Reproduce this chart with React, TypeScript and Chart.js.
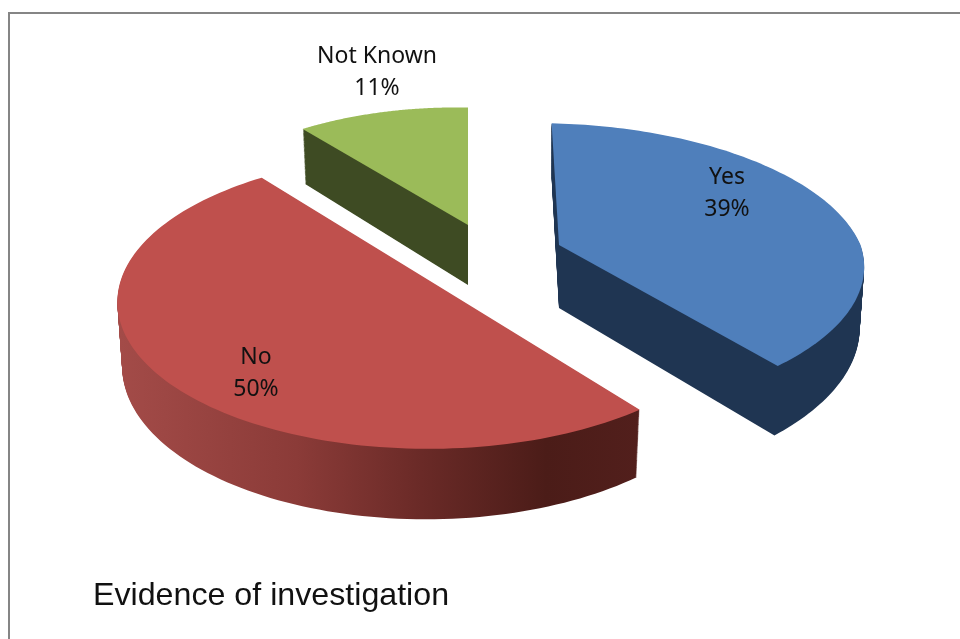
import React, { useEffect, useRef } from "react";
import { Chart, registerables } from "chart.js";

Chart.register(...registerables);

const categories = ["Yes", "No", "Not Known"];
const shares = [39, 50, 11];
const chartTitle = "Evidence of investigation";

const topColors = ["#4f7fbb", "#bf504d", "#9bbb59"];
const DEG = Math.PI / 180;

const looks = [
  { ax: 559, ay: 245, R: 316, Q: 141, k: 0.158, m: 0.048, rot: 0.7, sk: 0.088, D: 63, lx: 727, ly: 177, side: [[0, "#1f3552"], [1, "#1f3552"]] },
  { ax: 435, ay: 284, R: 309, Q: 145, k: 0.12, m: 0.02, rot: 2.2, sk: 0, D: 62, lx: 256, ly: 357, side: [[0, "#a34b48"], [0.34, "#8b3b38"], [0.58, "#6a2a27"], [0.82, "#4b1c18"], [1, "#521f1c"]] },
  { ax: 468, ay: 225, R: 283, Q: 136, k: 0.158, m: 0.048, rot: 0, sk: 0, D: 60, lx: 377, ly: 56, side: [[0, "#3e4b23"], [1, "#3e4b23"]] },
];

function point(l: any, a: number, t: number) {
  const b = a + l.rot * DEG;
  const u = Math.cos(b);
  const v = Math.sin(b);
  const w = 1 + l.m * u - l.k * v;
  const y = (l.Q * v) / w;
  return [l.ax + (l.R * u * (1 - 0.015 * t)) / w + l.sk * Math.min(y, 0), l.ay + y + (l.D * t) / w];
}

function slicePath(ctx: CanvasRenderingContext2D, l: any, s: number, e: number, t: number) {
  ctx.beginPath();
  ctx.moveTo(l.ax, l.ay + l.D * t);
  const n = 120;
  for (let i = 0; i <= n; i++) {
    const p = point(l, s + ((e - s) * i) / n, t);
    ctx.lineTo(p[0], p[1]);
  }
  ctx.closePath();
}

const tiltedPie = {
  id: "tiltedPie",
  beforeDraw(chart: any) {
    const ctx = chart.ctx;
    ctx.save();
    ctx.fillStyle = "#ffffff";
    ctx.fillRect(0, 0, 960, 639);
    ctx.strokeStyle = "#858585";
    ctx.lineWidth = 2;
    ctx.beginPath();
    ctx.moveTo(9, 639);
    ctx.lineTo(9, 13);
    ctx.lineTo(960, 13);
    ctx.stroke();
    ctx.restore();
  },
  beforeDatasetDraw(chart: any) {
    const ctx = chart.ctx;
    const arcs = chart.getDatasetMeta(0).data;
    ctx.save();
    arcs.forEach((arc: any, i: number) => {
      const l = looks[i];
      const g = ctx.createLinearGradient(120, 0, 640, 0);
      l.side.forEach((c: any) => g.addColorStop(c[0], c[1]));
      ctx.fillStyle = g;
      for (let d = 70; d >= 1; d--) {
        slicePath(ctx, l, arc.startAngle, arc.endAngle, d / 70);
        ctx.fill();
      }
      ctx.fillStyle = topColors[i];
      slicePath(ctx, l, arc.startAngle, arc.endAngle, 0);
      ctx.fill();
    });
    ctx.fillStyle = "#111111";
    ctx.font = '23px "Noto Sans"';
    ctx.textAlign = "center";
    ctx.textBaseline = "middle";
    arcs.forEach((arc: any, i: number) => {
      const l = looks[i];
      ctx.fillText(categories[i], l.lx, l.ly);
      ctx.fillText(shares[i] + "%", l.lx, l.ly + 32);
    });
    ctx.restore();
    return false;
  },
};

export default function App() {
  const ref = useRef<HTMLCanvasElement>(null);
  useEffect(() => {
    document.body.style.margin = "0";
    const chart = new Chart(ref.current as HTMLCanvasElement, {
      type: "pie",
      data: {
        labels: categories,
        datasets: [{ data: shares, backgroundColor: topColors, borderWidth: 0 }],
      },
      options: {
        animation: false,
        responsive: false,
        layout: { padding: { left: 93, bottom: 24 } },
        plugins: {
          legend: { display: false },
          tooltip: { enabled: false },
          title: {
            display: true,
            text: chartTitle,
            position: "bottom",
            align: "start",
            color: "#111111",
            font: { family: '"Liberation Sans"', size: 32.2, weight: "normal" },
            padding: 0,
          },
        },
      },
      plugins: [tiltedPie],
    } as any);
    return () => chart.destroy();
  }, []);
  return <canvas ref={ref} width={960} height={639} style={{ display: "block" }} />;
}
